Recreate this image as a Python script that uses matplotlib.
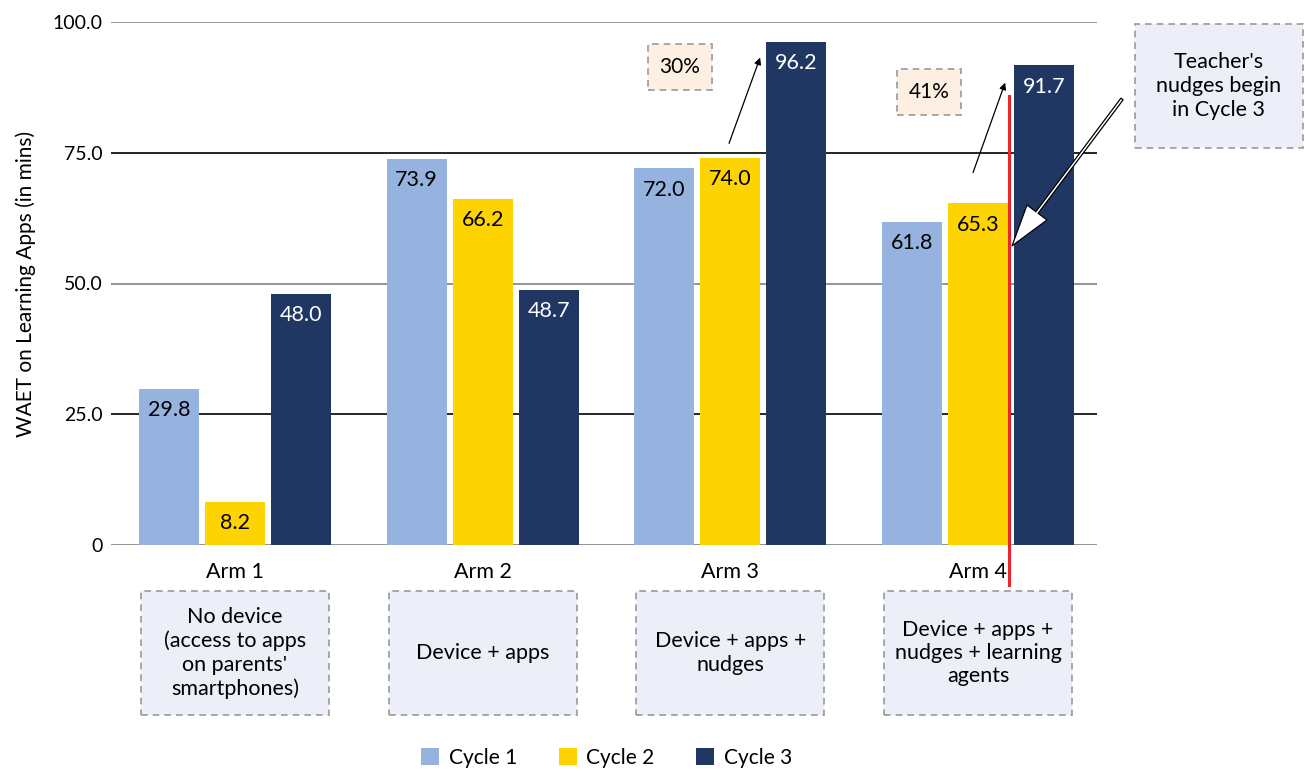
import matplotlib.pyplot as plt
import matplotlib.transforms as mtransforms
from matplotlib.patches import Rectangle
import numpy as np

plt.rcParams['font.family'] = ['Lato', 'DejaVu Sans']

arms = ['Arm 1', 'Arm 2', 'Arm 3', 'Arm 4']
descriptions = ["No device\n(access to apps\non parents'\nsmartphones)",
                "Device + apps",
                "Device + apps +\nnudges",
                "Device + apps +\nnudges + learning\nagents"]
cycles = ['Cycle 1', 'Cycle 2', 'Cycle 3']
cycle1 = [29.8, 73.9, 72.0, 61.8]
cycle2 = [8.2, 66.2, 74.0, 65.3]
cycle3 = [48.0, 48.7, 96.2, 91.7]
yticks = [0, 25, 50, 75, 100]
ytick_labels = ['0', '25.0', '50.0', '75.0', '100.0']

colors = ['#95b3de', '#fdd400', '#203764']
text_colors = ['black', 'black', 'white']

fig = plt.figure(figsize=(13.05, 7.71), dpi=100)
ax = fig.add_axes([111 / 1305, 1 - 545 / 771, 986 / 1305, 523 / 771])

x = np.arange(len(arms))
w = 0.242
off = 0.2665
for i, vals in enumerate([cycle1, cycle2, cycle3]):
    xs = x + (i - 1) * off
    ax.bar(xs, vals, w, color=colors[i], label=cycles[i], zorder=3)
    for xi, v in zip(xs, vals):
        ax.annotate(f'{v:.1f}', (xi, v), xytext=(0, -8), textcoords='offset points',
                    ha='center', va='top', fontsize=15.5, color=text_colors[i], zorder=4)

ax.set_xlim(-0.5007, 3.48)
ax.set_ylim(0, 100)
ax.set_yticks(yticks)
ax.set_yticklabels(ytick_labels, fontsize=14)
ax.tick_params(axis='y', length=0, pad=6)
ax.set_xticks([])
for s in ['left', 'right', 'top', 'bottom']:
    ax.spines[s].set_visible(False)
for t in yticks:
    c = 'black' if t in (25, 75) else '#808080'
    ax.axhline(t, color=c, lw=1.2, zorder=1)
ax.set_ylabel('WAET on Learning Apps (in mins)', fontsize=15, labelpad=12)

# arm labels and description boxes under the axis
trans = mtransforms.blended_transform_factory(ax.transData, ax.transAxes)
box_w = 0.759
for xi, arm, desc in zip(x, arms, descriptions):
    ax.text(xi, -0.052, arm, transform=trans, ha='center', va='center', fontsize=15.5)
    ax.add_patch(Rectangle((xi - box_w / 2, -0.325), box_w, 0.237, transform=trans,
                           facecolor='#eceef8', edgecolor='#999999', ls=(0, (4, 3)),
                           lw=1.2, clip_on=False))
    ax.text(xi, -0.2065, desc, transform=trans, ha='center', va='center',
            fontsize=15.5, linespacing=1.2)

# percentage boxes and arrows
pct_boxes = [('30%', 1.6676, 87.0), ('41%', 2.673, 82.2)]
for label, bx, by in pct_boxes:
    ax.add_patch(Rectangle((bx, by), 0.258, 8.8, facecolor='#fdf0e3', edgecolor='#999999',
                           ls=(0, (4, 3)), lw=1.2, zorder=2))
    ax.text(bx + 0.129, by + 4.4, label, ha='center', va='center', fontsize=15, zorder=3)

ax.annotate('', xy=(2.1238, 93.7), xytext=(1.9906, 76.3),
            arrowprops=dict(arrowstyle='-|>', color='black', lw=0.9, mutation_scale=10))
ax.annotate('', xy=(3.113, 88.9), xytext=(2.9757, 70.7),
            arrowprops=dict(arrowstyle='-|>', color='black', lw=0.9, mutation_scale=10))

# red line
ax.plot([3.125, 3.125], [85.85, -7.6], color='#e8262b', lw=2.2, zorder=5, clip_on=False)

# teacher note
fig.patches.append(Rectangle((1135 / 1305, 1 - 148 / 771), 168 / 1305, 124 / 771,
                             transform=fig.transFigure, facecolor='#eceef8',
                             edgecolor='#999999', ls=(0, (4, 3)), lw=1.2))
fig.text(1219 / 1305, 1 - 86 / 771, "Teacher's\nnudges begin\nin Cycle 3",
         ha='center', va='center', fontsize=15.5, linespacing=1.25)
ax.annotate('', xy=(3.137, 57.2), xytext=(1122 / 1305, 1 - 99 / 771),
            textcoords='figure fraction', annotation_clip=False,
            arrowprops=dict(arrowstyle='simple,head_width=0.9,head_length=1.5,tail_width=0.1',
                            fc='white', ec='black', lw=0.9, mutation_scale=20,
                            shrinkA=0, shrinkB=0), zorder=6)

fig.legend(loc='center', bbox_to_anchor=(0.4648, 1 - 758 / 771), ncol=3, frameon=False,
           fontsize=15, handlelength=0.87, handleheight=0.87, handletextpad=0.45,
           columnspacing=2.0)

fig.savefig('out.png', dpi=100)
